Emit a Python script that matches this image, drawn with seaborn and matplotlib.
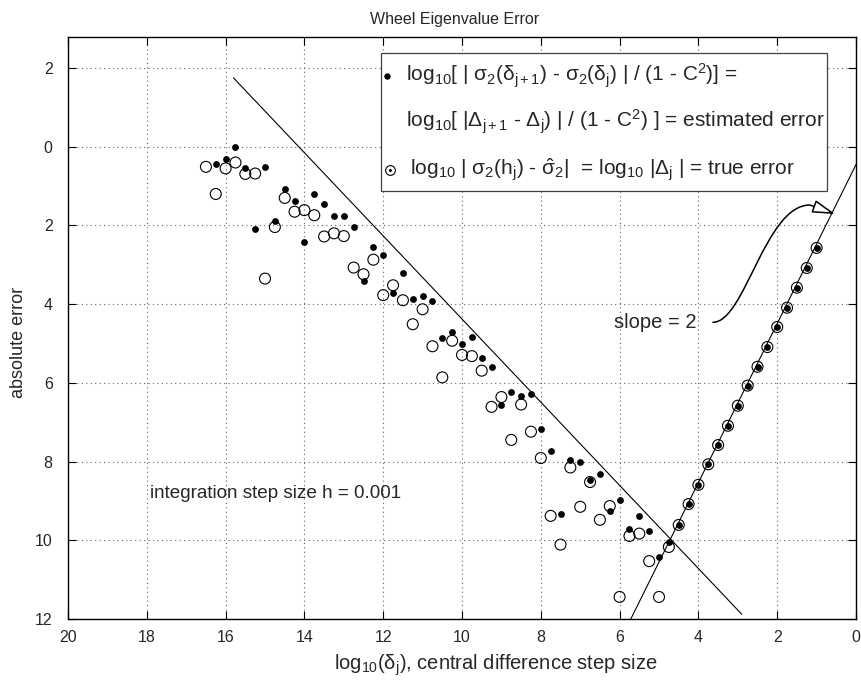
import matplotlib
matplotlib.use("Agg")
import matplotlib.pyplot as plt
from matplotlib.path import Path
from matplotlib.patches import FancyArrowPatch, Rectangle
import seaborn as sns
import pandas as pd

# ---------------- data ----------------
x_true = [16.5, 16.25, 16.0, 15.75, 15.5, 15.25, 15.0, 14.75, 14.5, 14.25, 14.0, 13.75,
          13.5, 13.25, 13.0, 12.75, 12.5, 12.25, 12.0, 11.75, 11.5, 11.25, 11.0, 10.75,
          10.5, 10.25, 10.0, 9.75, 9.5, 9.25, 9.0, 8.75, 8.5, 8.25, 8.0, 7.75,
          7.5, 7.25, 7.0, 6.75, 6.5, 6.25, 6.0, 5.75, 5.5, 5.25, 5.0, 4.75,
          4.5, 4.25, 4.0, 3.75, 3.5, 3.25, 3.0, 2.75, 2.5, 2.25, 2.0, 1.75,
          1.5, 1.25, 1.0]
y_true = [0.51, 1.20, 0.55, 0.40, 0.69, 0.68, 3.35, 2.04, 1.30, 1.65, 1.61, 1.74,
          2.28, 2.20, 2.27, 3.07, 3.24, 2.87, 3.77, 3.52, 3.90, 4.51, 4.13, 5.07,
          5.86, 4.93, 5.29, 5.32, 5.69, 6.61, 6.36, 7.45, 6.55, 7.24, 7.91, 9.38,
          10.11, 8.15, 9.15, 8.52, 9.48, 9.13, 11.44, 9.89, 9.83, 10.53, 11.44, 10.17,
          9.61, 9.08, 8.59, 8.07, 7.58, 7.09, 6.58, 6.07, 5.59, 5.09, 4.58, 4.09,
          3.58, 3.08, 2.57]

x_est = [16.25, 16.0, 15.75, 15.5, 15.25, 15.0, 14.75, 14.5, 14.25, 14.0, 13.75,
         13.5, 13.25, 13.0, 12.75, 12.5, 12.25, 12.0, 11.75, 11.5, 11.25, 11.0, 10.75,
         10.5, 10.25, 10.0, 9.75, 9.5, 9.25, 9.0, 8.75, 8.5, 8.25, 8.0, 7.75,
         7.5, 7.25, 7.0, 6.75, 6.5, 6.25, 6.0, 5.75, 5.5, 5.25, 5.0, 4.75,
         4.5, 4.25, 4.0, 3.75, 3.5, 3.25, 3.0, 2.75, 2.5, 2.25, 2.0, 1.75,
         1.5, 1.25, 1.0]
y_est = [0.44, 0.30, 0.0, 0.54, 2.08, 0.51,
         1.88, 1.07, 1.38, 2.41, 1.19, 1.45,
         1.77, 1.77, 2.04, 3.40, 2.55, 2.76,
         3.72, 3.21, 3.87, 3.80, 3.92, 4.85,
         4.71, 5.00, 4.84, 5.38, 5.60, 6.56,
         6.23, 6.33, 6.29, 7.18, 7.73, 9.32,
         7.97, 8.02, 8.47, 8.32, 9.26, 8.98,
         9.72, 9.39, 9.76, 10.42, 10.05, 9.61,
         9.08, 8.59, 8.07, 7.58, 7.09, 6.58,
         6.07, 5.59, 5.09, 4.58, 4.09, 3.58,
         3.08, 2.57]

bound_x = [15.8, 2.9]
bound_y = [-1.75, 11.88]
slope_x = [5.8, -0.1]
slope_y = [12.17, 0.25]

x_ticks = [20, 18, 16, 14, 12, 10, 8, 6, 4, 2, 0]
y_ticks = [-2, 0, 2, 4, 6, 8, 10, 12]
y_tick_labels = ["2", "0", "2", "4", "6", "8", "10", "12"]

# ---------------- style ----------------
sns.set_style("ticks")
plt.rcParams["font.family"] = ["Liberation Sans", "DejaVu Sans"]
plt.rcParams["mathtext.fontset"] = "custom"
plt.rcParams["mathtext.rm"] = "Liberation Sans"
plt.rcParams["mathtext.it"] = "Liberation Sans:italic"
plt.rcParams["mathtext.default"] = "regular"

fig = plt.figure(figsize=(8.61, 6.86), dpi=100)
ax = fig.add_axes([0.0790, 0.0977, 0.9152, 0.8484])

df_true = pd.DataFrame({"x": x_true, "y": y_true})
df_est = pd.DataFrame({"x": x_est, "y": y_est})

sns.lineplot(x=bound_x, y=bound_y, ax=ax, color="black", lw=0.8, sort=False)
sns.lineplot(x=slope_x, y=slope_y, ax=ax, color="black", lw=0.8, sort=False)

sns.scatterplot(data=df_true, x="x", y="y", ax=ax, marker="o", s=62,
                facecolor="none", edgecolor="black", linewidth=0.8, zorder=3)
sns.scatterplot(data=df_est, x="x", y="y", ax=ax, marker="o", s=24,
                color="black", edgecolor="black", linewidth=0, zorder=4)

ax.set_xlim(20, 0)
ax.set_ylim(12, -2.79)
ax.set_xticks(x_ticks)
ax.set_xticklabels([str(t) for t in x_ticks])
ax.set_yticks(y_ticks)
ax.set_yticklabels(y_tick_labels)
ax.tick_params(direction="in", length=6, width=0.8, labelsize=11.5, color="black",
               top=True, right=True)
ax.tick_params(axis="y", pad=11)
ax.tick_params(axis="x", pad=8)
for sp in ax.spines.values():
    sp.set_visible(True)
    sp.set_color("black")
    sp.set_linewidth(1.0)
ax.set_axisbelow(True)
ax.grid(True, linestyle=(0, (1, 3)), color="0.4", linewidth=0.8)

ax.set_xlabel(r"log$_{10}$($\delta_j$), central difference step size", fontsize=14.5)
ax.set_ylabel("absolute error", fontsize=13)
ax.xaxis.label.set_va("center")
ax.yaxis.label.set_va("center")
ax.xaxis.set_label_coords(0.543, -0.079)
ax.yaxis.set_label_coords(-0.063, 0.476)
ax.set_title("Wheel Eigenvalue Error", fontsize=11.5, x=0.491, pad=9)

# annotations
ax.text(17.92, 8.80, "integration step size h = 0.001", fontsize=13.6, ha="left", va="center")
ax.text(6.14, 4.46, "slope = 2", fontsize=14.5, ha="left", va="center")

verts = [(3.63, 4.46), (2.82, 4.46), (2.31, 1.48), (1.17, 1.48), (0.53, 1.71)]
codes = [Path.MOVETO, Path.CURVE4, Path.CURVE4, Path.CURVE4, Path.LINETO]
arrow = FancyArrowPatch(path=Path(verts, codes),
                        arrowstyle="-|>,head_length=1.4,head_width=0.4",
                        mutation_scale=10, facecolor="white", edgecolor="black",
                        lw=1.1, zorder=5)
ax.add_patch(arrow)

# legend box (manual)
box = Rectangle((0.397, 0.735), 0.566, 0.2375, transform=ax.transAxes,
                facecolor="white", edgecolor="0.25", lw=0.9, zorder=6)
ax.add_patch(box)
ax.plot([0.405], [0.933], transform=ax.transAxes, marker="o", ms=3.6, color="black",
        ls="none", zorder=7, clip_on=False)
ax.plot([0.409], [0.7715], transform=ax.transAxes, marker="o", ms=7, mfc="none",
        mec="black", mew=0.8, ls="none", zorder=7, clip_on=False)
ax.plot([0.409], [0.7715], transform=ax.transAxes, marker="o", ms=1.2, color="black",
        ls="none", zorder=7, clip_on=False)
leg_fs = 15
ax.text(0.429, 0.933,
        r"log$_{10}$[ | $\sigma_2$($\delta_{j+1}$) - $\sigma_2$($\delta_j$) | / (1 - C$^2$)] =",
        transform=ax.transAxes, fontsize=leg_fs, ha="left", va="center", zorder=7)
ax.text(0.429, 0.854,
        r"log$_{10}$[ |$\Delta_{j+1}$ - $\Delta_j$) | / (1 - C$^2$) ] = estimated error",
        transform=ax.transAxes, fontsize=leg_fs, ha="left", va="center", zorder=7)
ax.text(0.434, 0.7715,
        r"log$_{10}$ | $\sigma_2$(h$_j$) - $\hat{\sigma}_2$|  = log$_{10}$ |$\Delta_j$ | = true error",
        transform=ax.transAxes, fontsize=leg_fs, ha="left", va="center", zorder=7)

fig.savefig("out.png", dpi=100)
